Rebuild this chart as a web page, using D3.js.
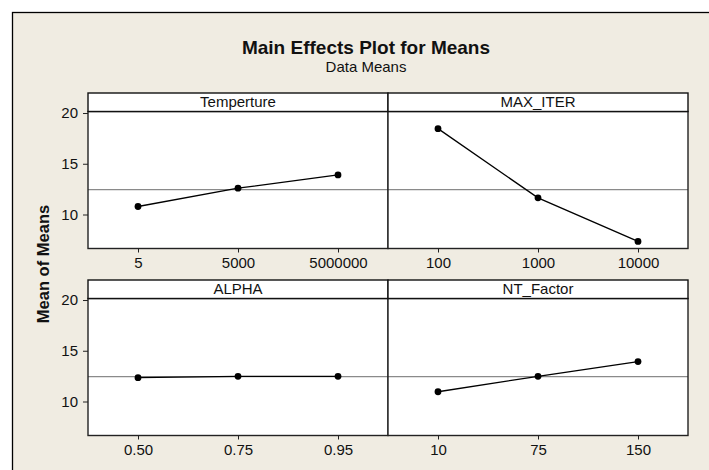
<!DOCTYPE html>
<html>
<head>
<meta charset="utf-8">
<script src="https://cdn.jsdelivr.net/npm/d3@7/dist/d3.min.js"></script>
<style>
  body { margin: 0; background: #fff; }
  svg { display: block; }
</style>
</head>
<body>
<script>
// factors, their levels and the mean response at each level
var factors = ["Temperture", "MAX_ITER", "ALPHA", "NT_Factor"];
var levels = [
    ["5", "5000", "5000000"],
    ["100", "1000", "10000"],
    ["0.50", "0.75", "0.95"],
    ["10", "75", "150"]
];
var means = [
    [10.79, 12.59, 13.90],
    [18.46, 11.64, 7.35],
    [12.35, 12.48, 12.48],
    [10.96, 12.48, 13.93]
];
var grandMean = 12.46;
var yTicks = [10, 15, 20];

var W = 709, H = 470;
var font = "'Liberation Sans', Arial, sans-serif";

var svg = d3.select("body")
    .append("svg")
    .attr("width", W)
    .attr("height", H);

// beige graph frame
svg.append("rect")
    .attr("x", 12.5)
    .attr("y", 12.5)
    .attr("width", 800)
    .attr("height", 800)
    .attr("fill", "#f0ece2")
    .attr("stroke", "#000")
    .attr("stroke-width", 1.3);

svg.append("text")
    .attr("x", 366)
    .attr("y", 53.5)
    .attr("text-anchor", "middle")
    .attr("font-family", font)
    .attr("font-size", 19)
    .attr("font-weight", "bold")
    .attr("fill", "#111")
    .text("Main Effects Plot for Means");

svg.append("text")
    .attr("x", 366)
    .attr("y", 71.5)
    .attr("text-anchor", "middle")
    .attr("font-family", font)
    .attr("font-size", 15)
    .attr("fill", "#111")
    .text("Data Means");

svg.append("text")
    .attr("transform", "translate(48.5,264) rotate(-90)")
    .attr("text-anchor", "middle")
    .attr("font-family", font)
    .attr("font-size", 16.5)
    .attr("font-weight", "bold")
    .attr("fill", "#111")
    .text("Mean of Means");

var colX = [88, 388], panelW = 300;
var rowTop = [93, 280], headH = 18.5, plotH = 137;

factors.forEach(function(name, i) {
    var col = i % 2, row = Math.floor(i / 2);
    var x0 = colX[col];
    var top = rowTop[row] + headH;

    var g = svg.append("g")
        .attr("transform", "translate(" + x0 + "," + top + ")");

    var x = d3.scalePoint()
        .domain(levels[i])
        .range([0, panelW])
        .padding(0.5);

    var y = d3.scaleLinear()
        .domain([6.65, 20.15])
        .range([plotH, 0]);

    g.append("rect")
        .attr("width", panelW)
        .attr("height", plotH)
        .attr("fill", "#fff");

    // reference line at the grand mean
    g.append("line")
        .attr("x1", 0)
        .attr("x2", panelW)
        .attr("y1", y(grandMean))
        .attr("y2", y(grandMean))
        .attr("stroke", "#8a8a8a")
        .attr("stroke-width", 1.2);

    var data = levels[i].map(function(l, j) { return { level: l, mean: means[i][j] }; });

    g.append("path")
        .datum(data)
        .attr("fill", "none")
        .attr("stroke", "#000")
        .attr("stroke-width", 1.3)
        .attr("d", d3.line()
            .x(function(d) { return x(d.level); })
            .y(function(d) { return y(d.mean); }));

    g.selectAll("circle")
        .data(data)
        .enter().append("circle")
        .attr("cx", function(d) { return x(d.level); })
        .attr("cy", function(d) { return y(d.mean); })
        .attr("r", 3.4)
        .attr("fill", "#000");

    var xa = g.append("g")
        .attr("transform", "translate(0," + plotH + ")")
        .call(d3.axisBottom(x).tickSize(4).tickPadding(5));
    xa.select(".domain").remove();
    xa.selectAll("line").attr("stroke", "#222");
    xa.selectAll("text")
        .attr("font-family", font)
        .attr("font-size", 15)
        .attr("fill", "#111");

    if (col === 0) {
        var ya = g.append("g")
            .call(d3.axisLeft(y).tickValues(yTicks).tickSize(5).tickPadding(5));
        ya.select(".domain").remove();
        ya.selectAll("line").attr("stroke", "#222");
        ya.selectAll("text")
            .attr("font-family", font)
            .attr("font-size", 15)
            .attr("fill", "#111");
    }

    // plot border
    g.append("rect")
        .attr("width", panelW)
        .attr("height", plotH)
        .attr("fill", "none")
        .attr("stroke", "#222")
        .attr("stroke-width", 1.4);

    // header strip
    var h = svg.append("g")
        .attr("transform", "translate(" + x0 + "," + rowTop[row] + ")");
    h.append("rect")
        .attr("width", panelW)
        .attr("height", headH)
        .attr("fill", "#fff")
        .attr("stroke", "#111")
        .attr("stroke-width", 1.4);
    h.append("text")
        .attr("x", panelW / 2)
        .attr("y", 14.3)
        .attr("text-anchor", "middle")
        .attr("font-family", font)
        .attr("font-size", 15)
        .attr("fill", "#111")
        .text(name);
});
</script>
</body>
</html>
